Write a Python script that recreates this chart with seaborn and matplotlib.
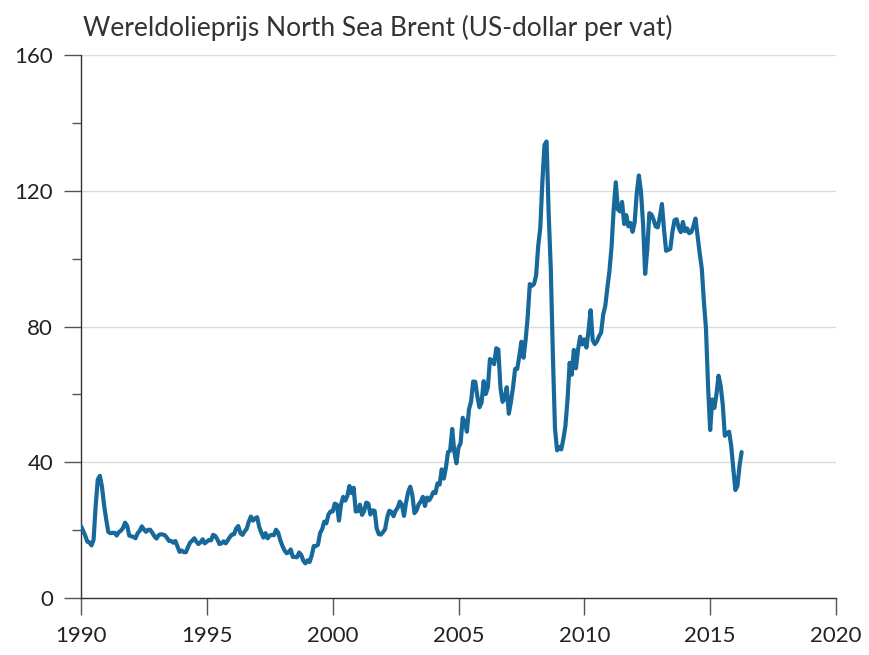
import numpy as np
import pandas as pd
import matplotlib
matplotlib.use("Agg")
import matplotlib.pyplot as plt
import seaborn as sns
from matplotlib.ticker import MultipleLocator

# Monthly Brent prices (USD per barrel), Jan 1990 - Apr 2016
prices_1990s = [
    21.2, 19.8, 18.4, 16.6, 16.4, 15.5, 17.2, 27.2, 34.9, 36.0, 32.8, 27.4,  # 1990
    23.2, 19.5, 19.1, 19.2, 19.2, 18.4, 19.4, 19.8, 20.6, 22.2, 21.3, 18.4,  # 1991
    18.2, 18.0, 17.6, 19.1, 19.8, 21.1, 20.2, 19.5, 20.1, 20.1, 19.2, 18.2,  # 1992
    17.5, 18.5, 18.8, 18.7, 18.5, 17.7, 16.8, 16.8, 16.3, 16.8, 15.2, 13.6,  # 1993
    14.0, 13.5, 13.5, 15.0, 16.3, 16.9, 17.6, 16.6, 15.9, 16.4, 17.3, 16.1,  # 1994
    16.6, 17.1, 17.0, 18.6, 18.3, 17.3, 15.9, 16.1, 16.7, 16.1, 17.0, 18.0,  # 1995
    18.7, 18.8, 20.5, 21.2, 19.1, 18.6, 19.6, 20.4, 22.5, 24.0, 22.8, 23.5,  # 1996
    23.8, 20.9, 19.2, 17.8, 19.1, 17.6, 18.4, 18.6, 18.5, 20.1, 19.3, 17.1,  # 1997
    15.4, 14.1, 13.2, 13.4, 14.3, 12.1, 12.1, 12.0, 13.4, 12.7, 11.0, 10.2,  # 1998
    11.1, 10.6, 12.5, 15.3, 15.3, 15.7, 19.1, 20.3, 22.5, 22.0, 24.6, 25.5,  # 1999
]
prices_2000s = [
    25.5, 27.8, 27.5, 22.8, 27.6, 29.8, 28.7, 30.1, 33.0, 30.9, 32.5, 25.5,  # 2000
    25.6, 27.5, 24.5, 25.6, 28.1, 27.8, 24.6, 25.8, 25.7, 20.5, 18.8, 18.7,  # 2001
    19.4, 20.3, 23.7, 25.7, 25.4, 24.1, 25.7, 26.6, 28.4, 27.5, 24.2, 28.2,  # 2002
    31.2, 32.8, 30.3, 25.0, 25.8, 27.6, 28.4, 29.8, 27.1, 29.6, 28.8, 29.8,  # 2003
    31.2, 30.9, 33.8, 33.4, 37.9, 35.2, 38.4, 43.0, 43.4, 49.8, 43.1, 39.7,  # 2004
    44.3, 45.6, 53.1, 51.9, 49.0, 55.6, 57.9, 63.8, 63.7, 59.4, 56.2, 57.6,  # 2005
    63.9, 60.1, 62.1, 70.4, 70.0, 68.9, 73.6, 73.2, 62.0, 57.8, 58.8, 62.1,  # 2006
    54.3, 57.8, 62.1, 67.5, 67.5, 71.3, 75.5, 70.8, 76.0, 82.9, 92.5, 92.0,  # 2007
    92.5, 95.0, 103.7, 109.1, 122.8, 133.5, 134.5, 113.2, 97.2, 71.6, 50.0, 43.5,  # 2008
    44.5, 43.8, 46.8, 50.8, 58.6, 69.3, 65.8, 73.1, 67.7, 73.2, 77.0, 74.7,  # 2009
]
prices_2010s = [
    76.2, 73.8, 78.8, 84.8, 75.9, 74.8, 75.6, 77.1, 78.2, 83.5, 86.1, 91.5,  # 2010
    96.5, 103.7, 114.6, 122.5, 114.5, 113.9, 116.7, 110.2, 112.8, 109.5, 110.5, 107.9,  # 2011
    110.7, 119.3, 124.5, 119.8, 110.3, 95.5, 102.6, 113.4, 113.0, 111.5, 109.5, 109.2,  # 2012
    112.3, 116.1, 108.5, 102.3, 102.6, 102.9, 107.9, 111.3, 111.6, 109.1, 107.8, 110.8,  # 2013
    108.1, 108.9, 107.5, 107.8, 109.5, 111.8, 106.8, 101.6, 97.1, 87.4, 79.4, 62.3,  # 2014
    49.5, 58.5, 56.0, 60.0, 65.5, 62.5, 57.0, 47.8, 48.5, 49.0, 45.0, 38.5,  # 2015
    31.8, 33.0, 39.0, 43.0,  # 2016
]

title = "Wereldolieprijs North Sea Brent (US-dollar per vat)"
x_ticks = [1990, 1995, 2000, 2005, 2010, 2015, 2020]
y_ticks = [0, 40, 80, 120, 160]

prices = prices_1990s + prices_2000s + prices_2010s
dates = pd.date_range("1990-01-01", periods=len(prices), freq="MS")
df = pd.DataFrame({
    "jaar": dates.year + (dates.month - 1) / 12.0,
    "prijs": prices,
})

sns.set_style("white")
plt.rcParams["font.family"] = ["Lato", "DejaVu Sans"]

fig = plt.figure(figsize=(8.69, 6.55), dpi=100)
ax = fig.add_axes([81 / 869, 1 - 598 / 655, (836 - 81) / 869, (598 - 55) / 655])

sns.lineplot(data=df, x="jaar", y="prijs", ax=ax, color="#17689b",
             linewidth=3.0, solid_joinstyle="round", zorder=3)

ax.set_xlim(1990, 2020)
ax.set_ylim(0, 160)
ax.set_xticks(x_ticks)
ax.set_xticklabels([str(t) for t in x_ticks])
ax.set_yticks(y_ticks)
ax.set_yticklabels([str(t) for t in y_ticks])
ax.yaxis.set_minor_locator(MultipleLocator(20))

for yv in y_ticks[1:]:
    ax.axhline(yv, color="#dcdcdc", linewidth=1.0, zorder=1)

ax.set_xlabel("")
ax.set_ylabel("")
for s in ["top", "right"]:
    ax.spines[s].set_visible(False)
for s in ["left", "bottom"]:
    ax.spines[s].set_color("#333333")
    ax.spines[s].set_linewidth(1.0)

ax.tick_params(axis="both", which="major", direction="out", length=12,
               width=1.0, color="#555555", labelsize=16, labelcolor="#222222")
ax.tick_params(axis="y", which="minor", direction="out", length=6.5,
               width=1.0, color="#555555", left=True)
ax.tick_params(axis="y", which="major", pad=8, left=True)
ax.tick_params(axis="x", which="major", pad=8, bottom=True)

fig.text(83 / 869, 1 - 28 / 655, title, fontsize=19, color="#333333",
         ha="left", va="center")

fig.savefig("out.png", dpi=100)
